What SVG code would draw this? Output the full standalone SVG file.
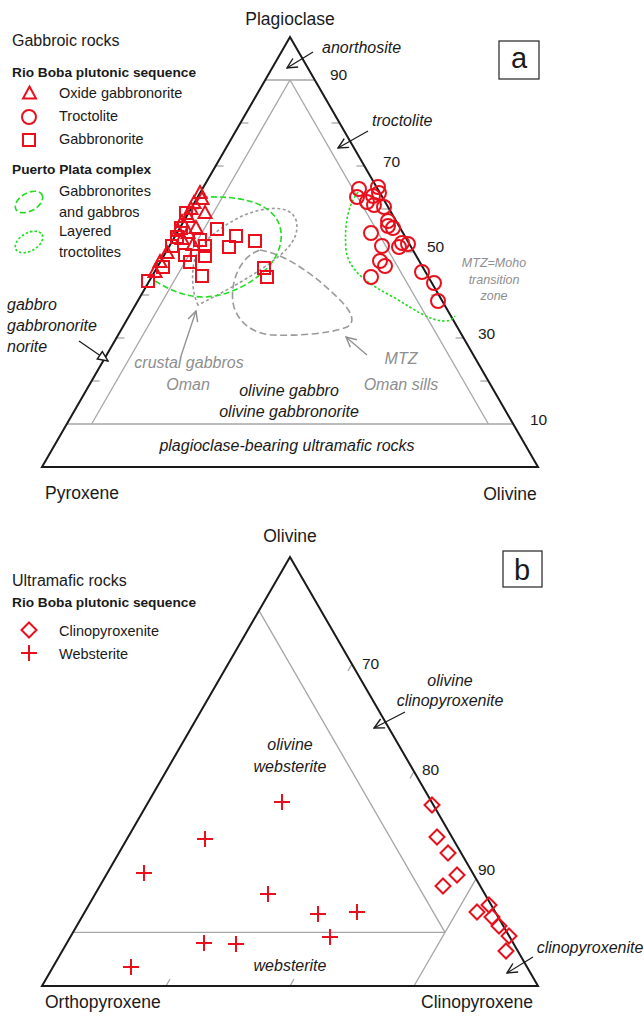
<svg xmlns="http://www.w3.org/2000/svg" width="644" height="1017" viewBox="0 0 644 1017">
<style>
text{font-family:"Liberation Sans",Arial,sans-serif;fill:#1a1a1a}
.v{font-size:17.5px}
.leg{font-size:14.5px}
.hd{font-size:16px}
.b{font-size:13.7px;font-weight:bold}
.it{font-size:16px;font-style:italic}
.sm{font-size:12.5px;font-style:italic}
.g{fill:#8e8e8e}
.num{font-size:15.5px}
.box{font-size:29px}
.edge{fill:none;stroke:#1a1a1a;stroke-width:2;stroke-linejoin:miter}
.grid{stroke:#a6a6a6;stroke-width:1.3;fill:none}
.tick{stroke:#a6a6a6;stroke-width:1.3}
.sym{fill:none;stroke:#e8101c;stroke-width:2}
.arr{stroke:#1a1a1a;stroke-width:1.2;fill:none}
.garr{stroke:#8e8e8e;stroke-width:1.3;fill:none}
.gn1{fill:none;stroke:#22dd22;stroke-width:1.6;stroke-dasharray:6 3}
.gn2{fill:none;stroke:#22dd22;stroke-width:1.6;stroke-dasharray:2.5 2}
.gy1{fill:none;stroke:#9a9a9a;stroke-width:1.6;stroke-dasharray:3 2.5}
.gy2{fill:none;stroke:#9a9a9a;stroke-width:1.6;stroke-dasharray:7 3.5}
</style>
<defs>
<marker id="ah" viewBox="0 0 12 12" refX="11" refY="6" markerWidth="12" markerHeight="12" markerUnits="userSpaceOnUse" orient="auto"><path d="M1,1 L11,6 L1,11" fill="none" stroke="#1a1a1a" stroke-width="1.4"/></marker>
<marker id="gah" viewBox="0 0 12 12" refX="11" refY="6" markerWidth="12" markerHeight="12" markerUnits="userSpaceOnUse" orient="auto"><path d="M1,1 L11,6 L1,11" fill="none" stroke="#8e8e8e" stroke-width="1.4"/></marker>
<marker id="tah" viewBox="0 0 12 12" refX="11" refY="6" markerWidth="12" markerHeight="12" markerUnits="userSpaceOnUse" orient="auto"><path d="M1,1.5 L11,6 L1,10.5 Z" fill="#fff" stroke="#1a1a1a" stroke-width="1.4"/></marker>
<path id="tri" d="M0,-7 L6.5,5 L-6.5,5 Z"/>
<rect id="sq" x="-6" y="-6" width="12" height="12"/>
<circle id="ci" r="7"/>
<path id="dm" d="M0,-7.5 L7.5,0 L0,7.5 L-7.5,0 Z"/>
<path id="cr" d="M-8,0 H8 M0,-8 V8"/>
</defs>

<!-- ===== Panel a ===== -->
<g id="panel-a-frame">
<line class="grid" x1="265.2" y1="80" x2="314.8" y2="80"/>
<line class="grid" x1="66.8" y1="424" x2="513.2" y2="424"/>
<line class="grid" x1="290" y1="80" x2="91.6" y2="424" stroke-width="1"/>
<line class="grid" x1="290" y1="80" x2="488.4" y2="424" stroke-width="1"/>
<g class="tick">
<line x1="240.4" y1="123" x2="248.4" y2="123"/><line x1="215.6" y1="166" x2="223.6" y2="166"/>
<line x1="190.8" y1="209" x2="198.8" y2="209"/><line x1="166" y1="252" x2="174" y2="252"/>
<line x1="141.2" y1="295" x2="149.2" y2="295"/><line x1="116.4" y1="338" x2="124.4" y2="338"/>
<line x1="91.6" y1="381" x2="99.6" y2="381"/>
<line x1="331.6" y1="123" x2="339.6" y2="123"/><line x1="356.4" y1="166" x2="364.4" y2="166"/>
<line x1="381.2" y1="209" x2="389.2" y2="209"/><line x1="406" y1="252" x2="414" y2="252"/>
<line x1="430.8" y1="295" x2="438.8" y2="295"/><line x1="455.6" y1="338" x2="463.6" y2="338"/>
<line x1="480.4" y1="381" x2="488.4" y2="381"/>
</g>
<path class="edge" d="M290,37 L538,467 L42,467 Z"/>
</g>

<g id="panel-a-labels">
<text class="v" x="290" y="25" text-anchor="middle">Plagioclase</text>
<text class="v" x="45" y="499">Pyroxene</text>
<text class="v" x="510" y="500" text-anchor="middle">Olivine</text>
<text class="num" x="330" y="80">90</text>
<text class="num" x="383" y="167">70</text>
<text class="num" x="427" y="252">50</text>
<text class="num" x="478" y="339">30</text>
<text class="num" x="530" y="425">10</text>
<text class="it" x="322" y="53">anorthosite</text>
<text class="it" x="372" y="126">troctolite</text>
<text class="it" x="7" y="310">gabbro</text>
<text class="it" x="7" y="331">gabbronorite</text>
<text class="it" x="7" y="352">norite</text>
<text class="it" x="289" y="396" text-anchor="middle">olivine gabbro</text>
<text class="it" x="289" y="417" text-anchor="middle">olivine gabbronorite</text>
<text class="it" x="287" y="451" text-anchor="middle">plagioclase-bearing ultramafic rocks</text>
<text class="it g" x="189" y="368" text-anchor="middle">crustal gabbros</text>
<text class="it g" x="188" y="390" text-anchor="middle">Oman</text>
<text class="it g" x="401" y="364" text-anchor="middle">MTZ</text>
<text class="it g" x="401" y="390" text-anchor="middle">Oman sills</text>
<text class="sm g" x="494" y="267" text-anchor="middle">MTZ=Moho</text>
<text class="sm g" x="494" y="284" text-anchor="middle">transition</text>
<text class="sm g" x="494" y="300" text-anchor="middle">zone</text>
</g>

<g id="panel-a-box">
<rect x="499" y="41" width="40" height="38" fill="none" stroke="#333" stroke-width="1.3"/>
<text class="box" x="519" y="68" text-anchor="middle">a</text>
</g>

<g id="legend-a">
<text class="hd" x="12" y="46">Gabbroic rocks</text>
<text class="b" x="12" y="77">Rio Boba plutonic sequence</text>
<use href="#tri" x="29.5" y="93.5" class="sym"/>
<text class="leg" x="59" y="98">Oxide gabbronorite</text>
<use href="#ci" x="29" y="117" class="sym"/>
<text class="leg" x="59" y="121">Troctolite</text>
<use href="#sq" x="29" y="140" class="sym"/>
<text class="leg" x="59" y="144">Gabbronorite</text>
<text class="b" x="12" y="174">Puerto Plata complex</text>
<ellipse cx="29" cy="202" rx="15" ry="9" transform="rotate(-30 29 202)" class="gn1"/>
<text class="leg" x="59" y="196">Gabbronorites</text>
<text class="leg" x="59" y="217">and gabbros</text>
<ellipse cx="29" cy="242" rx="15" ry="9" transform="rotate(-30 29 242)" class="gn2"/>
<text class="leg" x="59" y="236">Layered</text>
<text class="leg" x="59" y="257">troctolites</text>
</g>

<g id="contours-a">
<path class="gy1" d="M198,305 C193,295 191,278 194,262 C198,245 215,230 240,217 C262,207 290,203 296,220 C300,236 290,247 278,257 C258,273 228,290 198,305 Z"/>
<path class="gy2" d="M260,250 C290,255 320,280 340,300 C352,312 356,322 347,327 C330,334 295,336 273,335 C255,334 240,325 234,307 C229,290 236,258 260,250 Z"/>
<path class="gn1" d="M155,281 C170,290 185,297 205,297 C230,296 255,282 270,265 C282,250 285,232 276,218 C265,202 240,196 205,197"/>
<path class="gn2" d="M358,192 C348,205 344,225 346,250 C349,272 370,285 395,298 C415,310 430,321 445,321 C450,321 453,319 455,316"/>
</g>

<g id="data-a" class="sym">
<use href="#tri" x="200" y="193"/><use href="#tri" x="202" y="199"/><use href="#tri" x="194" y="203"/>
<use href="#tri" x="191" y="209"/><use href="#tri" x="205" y="213"/><use href="#tri" x="188" y="217"/>
<use href="#tri" x="182" y="222"/><use href="#tri" x="196" y="228"/><use href="#tri" x="178" y="231"/>
<use href="#tri" x="188" y="233"/><use href="#tri" x="182" y="239"/><use href="#tri" x="193" y="245"/>
<use href="#tri" x="167" y="253"/><use href="#tri" x="160" y="262"/><use href="#tri" x="155" y="272"/>
<use href="#sq" x="148" y="281"/><use href="#sq" x="163" y="267"/><use href="#sq" x="177" y="237"/>
<use href="#sq" x="172" y="246"/><use href="#sq" x="185" y="255"/><use href="#sq" x="190" y="262"/>
<use href="#sq" x="200" y="240"/><use href="#sq" x="205" y="246"/><use href="#sq" x="205" y="256"/>
<use href="#sq" x="202" y="276"/><use href="#sq" x="217" y="229"/><use href="#sq" x="236" y="236"/>
<use href="#sq" x="229" y="247"/><use href="#sq" x="255" y="241"/><use href="#sq" x="264" y="268"/>
<use href="#sq" x="267" y="277"/><use href="#sq" x="186" y="213"/><use href="#sq" x="181" y="228"/>
<use href="#ci" x="359" y="189"/><use href="#ci" x="378" y="187"/><use href="#ci" x="357" y="197"/>
<use href="#ci" x="367" y="202"/><use href="#ci" x="373" y="196"/><use href="#ci" x="379" y="193"/>
<use href="#ci" x="374" y="205"/><use href="#ci" x="384" y="207"/><use href="#ci" x="388" y="221"/>
<use href="#ci" x="393" y="228"/><use href="#ci" x="388" y="226"/><use href="#ci" x="371" y="233"/>
<use href="#ci" x="382" y="246"/><use href="#ci" x="399" y="247"/><use href="#ci" x="402" y="243"/>
<use href="#ci" x="408" y="244"/><use href="#ci" x="380" y="261"/><use href="#ci" x="385" y="266"/>
<use href="#ci" x="371" y="277"/><use href="#ci" x="422" y="272"/><use href="#ci" x="434" y="283"/>
<use href="#ci" x="438" y="301"/>
</g>

<!-- ===== Panel b ===== -->
<g id="panel-b-frame">
<line class="grid" x1="259" y1="610.6" x2="445" y2="932.4" stroke-width="1"/>
<line class="grid" x1="73" y1="932.4" x2="445" y2="932.4"/>
<line class="grid" x1="476" y1="878.8" x2="414" y2="986" stroke-width="1"/>
<g class="tick">
<line x1="352" y1="664" x2="348" y2="671"/><line x1="414" y1="771.5" x2="410" y2="778.5"/>
<line x1="166" y1="986" x2="170" y2="979"/><line x1="290" y1="986" x2="294" y2="979"/>
</g>
<path class="edge" d="M290,557 L538,986 L42,986 Z"/>
</g>

<g id="panel-b-labels">
<text class="v" x="290" y="542" text-anchor="middle">Olivine</text>
<text class="v" x="45" y="1008">Orthopyroxene</text>
<text class="v" x="421" y="1008">Clinopyroxene</text>
<text class="num" x="362" y="669">70</text>
<text class="num" x="422" y="775">80</text>
<text class="num" x="478" y="875">90</text>
<text class="it" x="450" y="686" text-anchor="middle">olivine</text>
<text class="it" x="450" y="706" text-anchor="middle">clinopyroxenite</text>
<text class="it" x="290" y="750" text-anchor="middle">olivine</text>
<text class="it" x="290" y="772" text-anchor="middle">websterite</text>
<text class="it" x="290" y="971" text-anchor="middle">websterite</text>
<text class="it" x="590" y="953" text-anchor="middle">clinopyroxenite</text>
</g>

<g id="panel-b-box">
<rect x="503" y="551" width="39" height="36" fill="none" stroke="#333" stroke-width="1.3"/>
<text class="box" x="522" y="580" text-anchor="middle">b</text>
</g>

<g id="legend-b">
<text class="hd" x="12" y="586">Ultramafic rocks</text>
<text class="b" x="12" y="607">Rio Boba plutonic sequence</text>
<use href="#dm" x="29" y="630" class="sym"/>
<text class="leg" x="59" y="636">Clinopyroxenite</text>
<use href="#cr" x="29" y="653" class="sym"/>
<text class="leg" x="59" y="659">Websterite</text>
</g>

<g id="data-b" class="sym">
<use href="#cr" x="282" y="802"/><use href="#cr" x="205" y="839"/><use href="#cr" x="144" y="873"/>
<use href="#cr" x="268" y="894"/><use href="#cr" x="318" y="914"/><use href="#cr" x="357" y="912"/>
<use href="#cr" x="330" y="937"/><use href="#cr" x="204" y="943"/><use href="#cr" x="236" y="944"/>
<use href="#cr" x="131" y="967"/>
<use href="#dm" x="432" y="805"/><use href="#dm" x="437" y="837"/><use href="#dm" x="448" y="853"/>
<use href="#dm" x="457" y="875"/><use href="#dm" x="443" y="886"/><use href="#dm" x="489" y="905"/>
<use href="#dm" x="477" y="912"/><use href="#dm" x="492" y="917"/><use href="#dm" x="499" y="926"/>
<use href="#dm" x="509" y="936"/><use href="#dm" x="506" y="951"/>
</g>

<g id="connectors">
<line class="arr" x1="313" y1="52" x2="287" y2="68" marker-end="url(#ah)"/>
<line class="arr" x1="368" y1="131" x2="338" y2="148" marker-end="url(#ah)"/>
<line class="arr" x1="79" y1="341" x2="108" y2="361" marker-end="url(#tah)"/>
<line class="garr" x1="181" y1="356" x2="196" y2="311" marker-end="url(#gah)"/>
<line class="garr" x1="367" y1="355" x2="346" y2="337" marker-end="url(#gah)"/>
<line class="arr" x1="405" y1="712" x2="374" y2="728" marker-end="url(#ah)"/>
<line class="arr" x1="533" y1="957" x2="507" y2="973" marker-end="url(#ah)"/>
</g>
</svg>
